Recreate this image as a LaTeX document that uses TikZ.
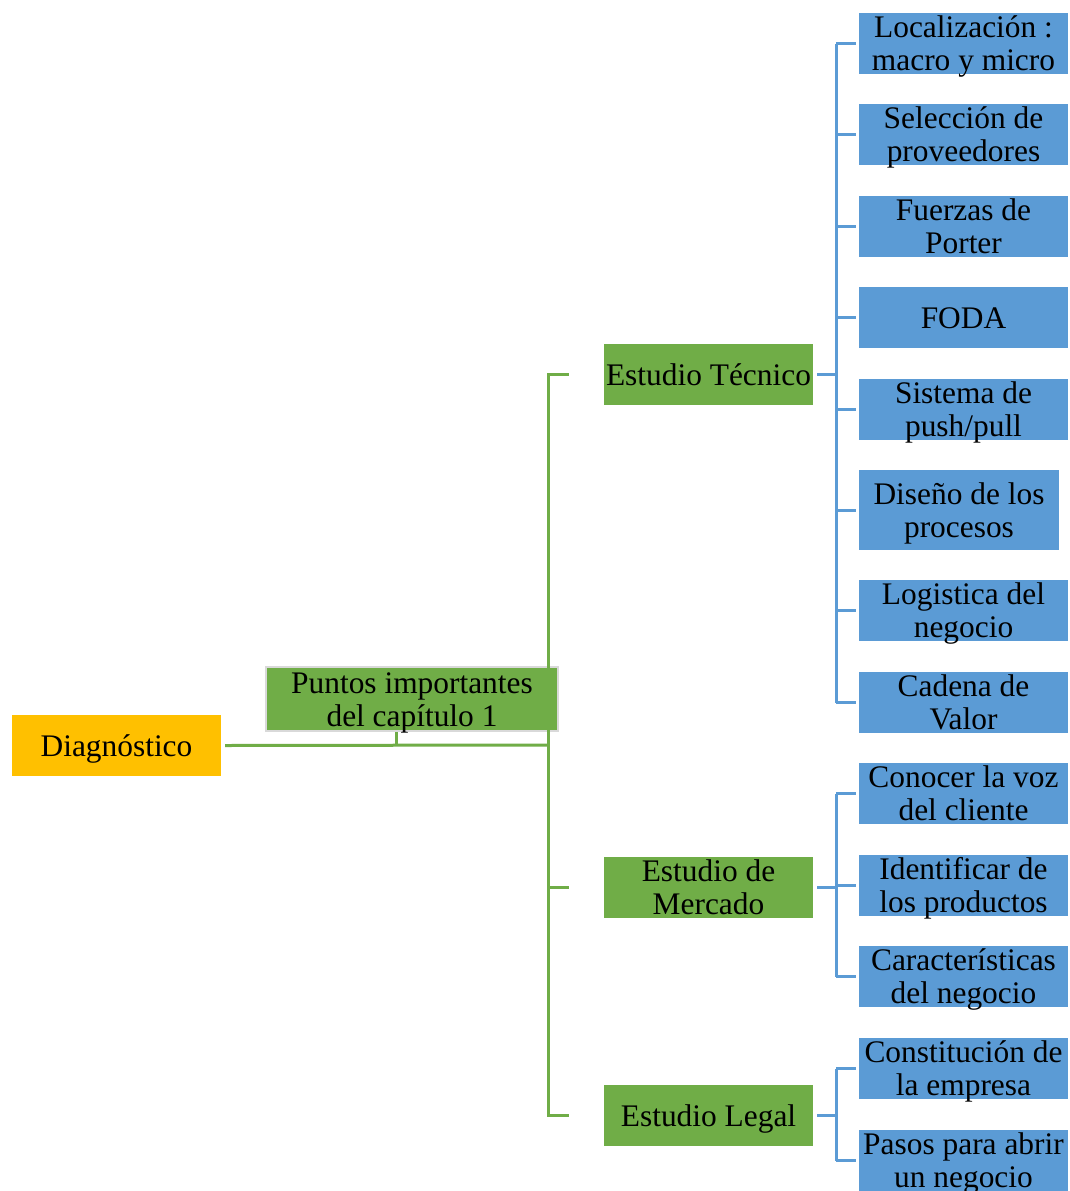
\documentclass[tikz,border=0pt]{standalone}
\usepackage{fontspec}
\setmainfont{Liberation Serif}
\definecolor{gr}{HTML}{70AD47}
\definecolor{bl}{HTML}{5B9BD5}
\definecolor{gd}{HTML}{FFC000}
\newcommand\txt[2]{\raisebox{\dimexpr 16.5pt*#1 - 27pt\relax}[0pt][0pt]{\begin{tabular}[t]{@{}c@{}}#2\end{tabular}}}
\tikzset{
  base/.style={inner sep=0pt, minimum height=61pt, font=\fontsize{31.4}{33}\selectfont, text=black},
  gbox/.style={base, fill=gr, minimum width=209pt},
  bbox/.style={base, fill=bl, minimum width=209pt},
  gline/.style={draw=gr, line width=3pt},
  bline/.style={draw=bl, line width=3pt},
}
\begin{document}
\begin{tikzpicture}[x=1pt,y=-1pt]
\useasboundingbox (0,0) rectangle (1069,1191);
\fill[white] (0,0) rectangle (1069,1191);
% level 0/1
\node[base, fill=gd, minimum width=209pt] (diag) at (116.5,745.5) {\txt{1}{Diagnóstico}};
\node[gbox, minimum width=292pt, minimum height=64pt, draw=black!15, line width=2.5pt] (pun) at (412,699) {\txt{2}{Puntos importantes\\del capítulo 1}};
\node[gbox] (tec) at (708.5,374.5) {\txt{1}{Estudio Técnico}};
\node[gbox] (mer) at (708.5,887.5) {\txt{2}{Estudio de\\Mercado}};
\node[gbox] (leg) at (708.5,1115.5) {\txt{1}{Estudio Legal}};
% leaves technical
\node[bbox] (t1) at (963.5,43.5) {\txt{2}{Localización :\\macro y micro}};
\node[bbox] (t2) at (963.5,134.5) {\txt{2}{Selección de\\proveedores}};
\node[bbox] (t3) at (963.5,226.5) {\txt{2}{Fuerzas de\\Porter}};
\node[bbox] (t4) at (963.5,317.5) {\txt{1}{FODA}};
\node[bbox] (t5) at (963.5,409.5) {\txt{2}{Sistema de\\push/pull}};
\node[bbox, minimum width=200pt, minimum height=80pt] (t6) at (959,510) {\txt{2}{Diseño de los\\procesos}};
\node[bbox] (t7) at (963.5,610.5) {\txt{2}{Logistica del\\negocio}};
\node[bbox] (t8) at (963.5,702.5) {\txt{2}{Cadena de\\Valor}};
% leaves market
\node[bbox] (m1) at (963.5,793.5) {\txt{2}{Conocer la voz\\del cliente}};
\node[bbox] (m2) at (963.5,885.5) {\txt{2}{Identificar de\\los productos}};
\node[bbox] (m3) at (963.5,976.5) {\txt{2}{Características\\del negocio}};
% leaves legal
\node[bbox] (l1) at (963.5,1068.5) {\txt{2}{Constitución de\\la empresa}};
\node[bbox] (l2) at (963.5,1160.5) {\txt{2}{Pasos para abrir\\un negocio}};
% green connectors
\coordinate (trunk) at (548,745);
\draw[gline] ([xshift=4pt]diag.east) -- (trunk);
\draw[gline] ([xshift=-16pt]pun.south) -- ++(0,14);
\draw[gline] ([xshift=-35pt]tec.west) -| (trunk) |- ([xshift=-35pt]leg.west);
\draw[gline] (trunk |- mer.west) -- ([xshift=-35pt]mer.west);
% blue connectors
\foreach \p/\a/\b/\list in {tec/t1/t8/{t1,t2,t3,t4,t5,t6,t7,t8}, mer/m1/m3/{m1,m2,m3}, leg/l1/l2/{l1,l2}}{
  \coordinate (sp) at ([xshift=23pt]\p.east);
  \draw[bline] ([xshift=4pt]\p.east) -- (sp);
  \draw[bline] (sp |- \a.west) -- (sp |- \b.west);
  \foreach \c in \list { \draw[bline] (sp |- \c.west) -- ([xshift=-3pt]\c.west); }
}
\end{tikzpicture}
\end{document}
